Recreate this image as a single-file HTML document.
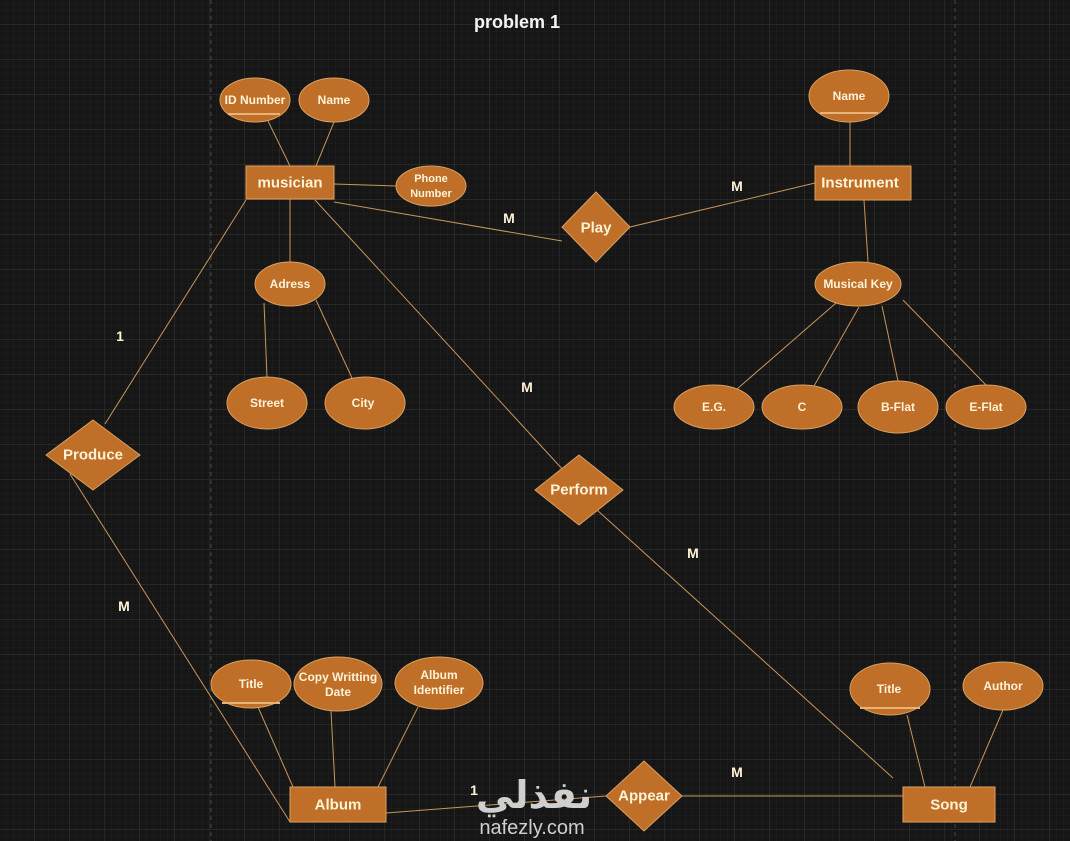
<!DOCTYPE html>
<html><head><meta charset="utf-8"><style>
html,body{margin:0;padding:0;background:#161616;}
svg{display:block}
text{font-family:"Liberation Sans",Arial,sans-serif;font-weight:bold;fill:#fff3d8;text-anchor:middle;dominant-baseline:central}
</style></head><body>
<svg width="1070" height="841" viewBox="0 0 1070 841" xmlns="http://www.w3.org/2000/svg">
<defs>
<pattern id="minor" width="7" height="7" patternUnits="userSpaceOnUse" x="0" y="4">
<path d="M7 0V7M0 7H7" stroke="#202020" stroke-width="1" fill="none"/></pattern>
<pattern id="major" width="35" height="35" patternUnits="userSpaceOnUse" x="0" y="-10">
<path d="M35 0V35M0 35H35" stroke="#383838" stroke-width="1" fill="none"/></pattern>
</defs>
<rect width="1070" height="841" fill="#161616"/>
<rect width="1070" height="841" fill="url(#minor)"/>
<rect width="1070" height="841" fill="url(#major)"/>
<line x1="211" y1="0" x2="211" y2="841" stroke="#4a4a4a" stroke-dasharray="4,4"/>
<line x1="955" y1="0" x2="955" y2="841" stroke="#4a4a4a" stroke-dasharray="4,4"/>

<g stroke="#c8955a" stroke-width="1" fill="none">
<line x1="290" y1="166" x2="268" y2="121"/>
<line x1="316" y1="166" x2="334" y2="122"/>
<line x1="334" y1="184" x2="396" y2="186"/>
<line x1="334" y1="202" x2="562" y2="241"/>
<line x1="630" y1="227" x2="815" y2="183"/>
<line x1="850" y1="166" x2="850" y2="122"/>
<line x1="864" y1="200" x2="868" y2="262"/>
<line x1="836" y1="303" x2="737" y2="389"/>
<line x1="859" y1="307" x2="814" y2="386"/>
<line x1="882" y1="306" x2="898" y2="381"/>
<line x1="903" y1="300" x2="986" y2="385"/>
<line x1="290" y1="199" x2="290" y2="262"/>
<line x1="264" y1="303" x2="267" y2="377"/>
<line x1="316" y1="300" x2="352" y2="378"/>
<line x1="246" y1="200" x2="105" y2="424"/>
<line x1="70" y1="474" x2="290" y2="822"/>
<line x1="315" y1="200" x2="565" y2="472"/>
<line x1="597" y1="510" x2="893" y2="778"/>
<line x1="386" y1="813" x2="606" y2="796"/>
<line x1="682" y1="796" x2="903" y2="796"/>
<line x1="335" y1="787" x2="331" y2="711"/>
<line x1="293" y1="787" x2="258" y2="707"/>
<line x1="378" y1="787" x2="418" y2="707"/>
<line x1="925" y1="787" x2="907" y2="715"/>
<line x1="970" y1="787" x2="1003" y2="710"/>
</g>

<g fill="#bf6f28" stroke="#d9a060" stroke-width="1">
<rect x="246" y="166" width="88" height="33"/>
<rect x="815" y="166" width="96" height="34"/>
<rect x="290" y="787" width="96" height="35"/>
<rect x="903" y="787" width="92" height="35"/>
<ellipse cx="255" cy="100" rx="35" ry="22"/>
<ellipse cx="334" cy="100" rx="35" ry="22"/>
<ellipse cx="431" cy="186" rx="35" ry="20"/>
<ellipse cx="849" cy="96" rx="40" ry="26"/>
<ellipse cx="858" cy="284" rx="43" ry="22"/>
<ellipse cx="714" cy="407" rx="40" ry="22"/>
<ellipse cx="802" cy="407" rx="40" ry="22"/>
<ellipse cx="898" cy="407" rx="40" ry="26"/>
<ellipse cx="986" cy="407" rx="40" ry="22"/>
<ellipse cx="290" cy="284" rx="35" ry="22"/>
<ellipse cx="267" cy="403" rx="40" ry="26"/>
<ellipse cx="365" cy="403" rx="40" ry="26"/>
<ellipse cx="251" cy="684" rx="40" ry="24"/>
<ellipse cx="338" cy="684" rx="44" ry="27"/>
<ellipse cx="439" cy="683" rx="44" ry="26"/>
<ellipse cx="890" cy="689" rx="40" ry="26"/>
<ellipse cx="1003" cy="686" rx="40" ry="24"/>
<polygon points="596,192 630,227 596,262 562,227"/>
<polygon points="93,420 140,455 93,490 46,455"/>
<polygon points="579,455 623,490 579,525 535,490"/>
<polygon points="644,761 682,796 644,831 606,796"/>
</g>
<g stroke="#e8b27a" stroke-width="2">
<line x1="228" y1="114" x2="280" y2="114"/>
<line x1="820" y1="113" x2="878" y2="113"/>
<line x1="222" y1="703" x2="280" y2="703"/>
<line x1="860" y1="708" x2="920" y2="708"/>
</g>

<text x="517" y="22" font-size="18" style="fill:#f4f4f4">problem 1</text>
<text x="290" y="183" font-size="15">musician</text>
<text x="860" y="183" font-size="15">Instrument</text>
<text x="338" y="805" font-size="15">Album</text>
<text x="949" y="805" font-size="15">Song</text>
<text x="255" y="100" font-size="12">ID Number</text>
<text x="334" y="100" font-size="12">Name</text>
<text x="431" y="179" font-size="11">Phone</text>
<text x="431" y="194" font-size="11">Number</text>
<text x="849" y="96" font-size="12">Name</text>
<text x="858" y="284" font-size="12">Musical Key</text>
<text x="714" y="407" font-size="12">E.G.</text>
<text x="802" y="407" font-size="12">C</text>
<text x="898" y="407" font-size="12">B-Flat</text>
<text x="986" y="407" font-size="12">E-Flat</text>
<text x="290" y="284" font-size="12">Adress</text>
<text x="267" y="403" font-size="12">Street</text>
<text x="363" y="403" font-size="12">City</text>
<text x="251" y="684" font-size="12">Title</text>
<text x="338" y="677" font-size="12">Copy Writting</text>
<text x="338" y="692" font-size="12">Date</text>
<text x="439" y="675" font-size="12">Album</text>
<text x="439" y="690" font-size="12">Identifier</text>
<text x="889" y="689" font-size="12">Title</text>
<text x="1003" y="686" font-size="12">Author</text>
<text x="596" y="228" font-size="15">Play</text>
<text x="93" y="455" font-size="15">Produce</text>
<text x="579" y="490" font-size="15">Perform</text>
<text x="644" y="796" font-size="15">Appear</text>
<g font-size="14">
<text x="509" y="218">M</text>
<text x="737" y="186">M</text>
<text x="120" y="336">1</text>
<text x="527" y="387">M</text>
<text x="693" y="553">M</text>
<text x="124" y="606">M</text>
<text x="737" y="772">M</text>
<text x="474" y="790">1</text>
</g>
<text x="534" y="796" font-size="38" style="fill:#cfcfcf;font-family:'Liberation Sans','DejaVu Sans',sans-serif">نفذلي</text>
<text x="532" y="828" font-size="20" style="fill:#cfcfcf;font-weight:normal">nafezly.com</text>
</svg>
</body></html>
